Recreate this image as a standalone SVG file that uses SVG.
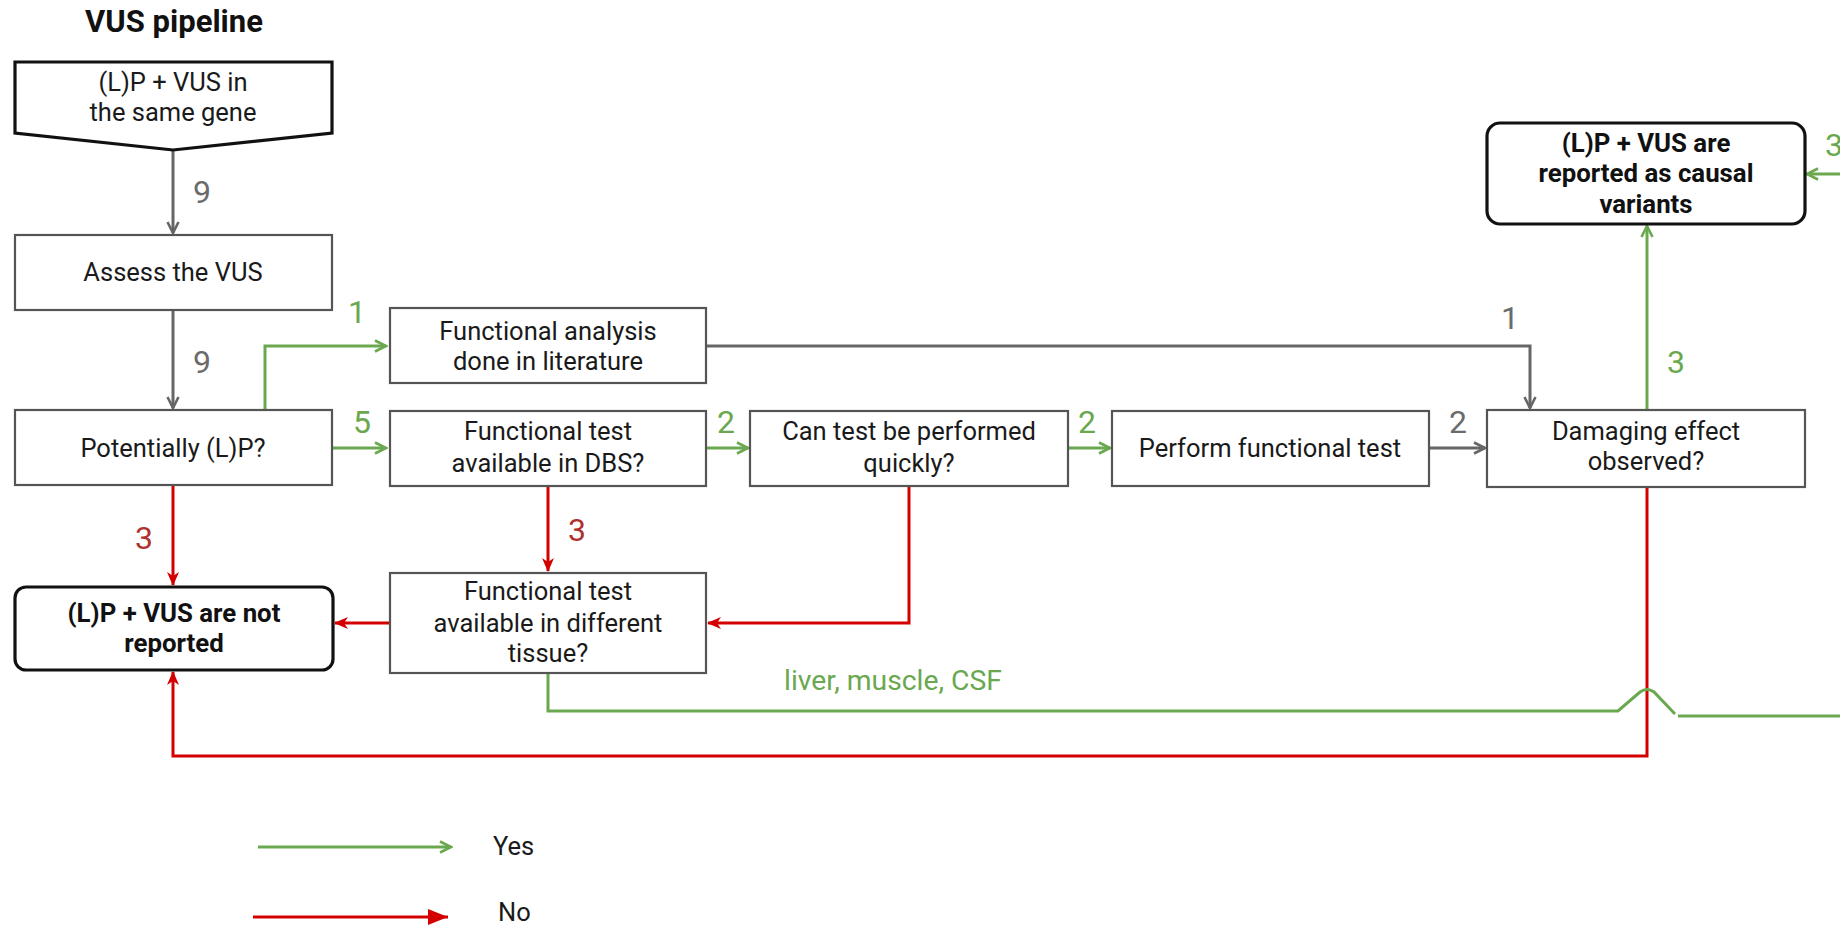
<svg xmlns="http://www.w3.org/2000/svg" width="1840" height="927" viewBox="0 0 1840 927">
  <style>
    text { font-family: Roboto, "Liberation Sans", sans-serif; }
    .box { fill: #ffffff; stroke: #555555; stroke-width: 2.2; }
    .term { fill: #ffffff; stroke: #111111; stroke-width: 3.2; }
    .t { font-size: 25.5px; fill: #1a1a1a; text-anchor: middle; }
    .tb { font-size: 25.8px; font-weight: bold; fill: #111111; text-anchor: middle; }
    .title { font-size: 31px; font-weight: bold; fill: #111111; text-anchor: middle; }
    .n { font-size: 32px; text-anchor: middle; }
    .ng { fill: #6aa84f; }
    .nr { fill: #b03030; }
    .nk { fill: #6b6b6b; }
    .c { fill: none; stroke-width: 3; stroke-linejoin: miter; }
    .cg { stroke: #6aa84f; }
    .cr { stroke: #d40000; }
    .ck { stroke: #666666; }
  </style>
  <defs>
    <marker id="mg" viewBox="0 0 14 14" refX="12.5" refY="7" markerWidth="14" markerHeight="14" orient="auto" markerUnits="userSpaceOnUse">
      <path d="M1.5,1.5 L12.5,7 L1.5,12.5" fill="none" stroke="#6aa84f" stroke-width="2.6"/>
    </marker>
    <marker id="mk" viewBox="0 0 14 14" refX="12.5" refY="7" markerWidth="14" markerHeight="14" orient="auto" markerUnits="userSpaceOnUse">
      <path d="M1.5,1.5 L12.5,7 L1.5,12.5" fill="none" stroke="#666666" stroke-width="2.6"/>
    </marker>
    <marker id="mr" viewBox="0 0 14 14" refX="13" refY="7" markerWidth="14" markerHeight="14" orient="auto" markerUnits="userSpaceOnUse">
      <path d="M0,1 L14,7 L0,13 L4,7 z" fill="#d40000"/>
    </marker>
    <marker id="mrl" viewBox="0 0 20 16" refX="20" refY="8" markerWidth="20" markerHeight="16" orient="auto" markerUnits="userSpaceOnUse">
      <path d="M0,0 L20,8 L0,16 z" fill="#d40000"/>
    </marker>
  </defs>

  <text class="title" x="174" y="32">VUS pipeline</text>

  <!-- connectors -->
  <g id="connectors">
    <path class="c ck" d="M173,150 L173,233" marker-end="url(#mk)"/>
    <path class="c ck" d="M173,310 L173,408" marker-end="url(#mk)"/>
    <path class="c cg" d="M265,410 L265,346 L386,346" marker-end="url(#mg)"/>
    <path class="c cg" d="M332,448 L386,448" marker-end="url(#mg)"/>
    <path class="c cr" d="M173,485 L173,585" marker-end="url(#mr)"/>
    <path class="c cg" d="M706,448 L748,448" marker-end="url(#mg)"/>
    <path class="c cr" d="M548,486 L548,571" marker-end="url(#mr)"/>
    <path class="c cg" d="M1068,448 L1110,448" marker-end="url(#mg)"/>
    <path class="c ck" d="M1429,448 L1485,448" marker-end="url(#mk)"/>
    <path class="c ck" d="M706,346 L1530,346 L1530,408" marker-end="url(#mk)"/>
    <path class="c cg" d="M1647,410 L1647,226" marker-end="url(#mg)"/>
    <path class="c cg" d="M1840,174 L1807,174" marker-end="url(#mg)"/>
    <path class="c cr" d="M909,486 L909,623 L708,623" marker-end="url(#mr)"/>
    <path class="c cr" d="M390,623 L335,623" marker-end="url(#mr)"/>
    <path class="c cr" d="M1647,487 L1647,756 L173,756 L173,672" marker-end="url(#mr)"/>
    <path class="c cg" d="M548,673 L548,711 L1618,711 L1640,692 Q1647,687 1654,692 L1675,714"/>
    <path class="c cg" d="M1678,716 L1840,716"/>
  </g>

  <!-- edge labels -->
  <g id="labels">
    <text class="n nk" x="202" y="203">9</text>
    <text class="n nk" x="202" y="373">9</text>
    <text class="n ng" x="357" y="323">1</text>
    <text class="n ng" x="362" y="433">5</text>
    <text class="n nr" x="144" y="549">3</text>
    <text class="n ng" x="726" y="433">2</text>
    <text class="n nr" x="577" y="541">3</text>
    <text class="n ng" x="1087" y="433">2</text>
    <text class="n nk" x="1458" y="433">2</text>
    <text class="n nk" x="1510" y="329">1</text>
    <text class="n ng" x="1676" y="373">3</text>
    <text class="n ng" x="1834" y="156" text-anchor="end">3</text>
    <text class="ng" x="784" y="690" font-size="28.3">liver, muscle, CSF</text>
  </g>

  <!-- nodes -->
  <g id="start">
    <polygon points="15,62 332,62 332,133 173,150 15,133" fill="#ffffff" stroke="#111111" stroke-width="3.2" stroke-linejoin="miter"/>
    <text class="t" x="173" y="91">(L)P + VUS in</text>
    <text class="t" x="173" y="121">the same gene</text>
  </g>
  <g id="assess">
    <rect class="box" x="15" y="235" width="317" height="75"/>
    <text class="t" x="173" y="281">Assess the VUS</text>
  </g>
  <g id="potentially">
    <rect class="box" x="15" y="410" width="317" height="75"/>
    <text class="t" x="173" y="457">Potentially (L)P?</text>
  </g>
  <g id="literature">
    <rect class="box" x="390" y="308" width="316" height="75"/>
    <text class="t" x="548" y="340">Functional analysis</text>
    <text class="t" x="548" y="370">done in literature</text>
  </g>
  <g id="dbs">
    <rect class="box" x="390" y="411" width="316" height="75"/>
    <text class="t" x="548" y="440">Functional test</text>
    <text class="t" x="548" y="472">available in DBS?</text>
  </g>
  <g id="quick">
    <rect class="box" x="750" y="411" width="318" height="75"/>
    <text class="t" x="909" y="440">Can test be performed</text>
    <text class="t" x="909" y="472">quickly?</text>
  </g>
  <g id="perform">
    <rect class="box" x="1112" y="411" width="317" height="75"/>
    <text class="t" x="1270" y="457">Perform functional test</text>
  </g>
  <g id="damaging">
    <rect class="box" x="1487" y="410" width="318" height="77"/>
    <text class="t" x="1646" y="440">Damaging effect</text>
    <text class="t" x="1646" y="470">observed?</text>
  </g>
  <g id="tissue">
    <rect class="box" x="390" y="573" width="316" height="100"/>
    <text class="t" x="548" y="600">Functional test</text>
    <text class="t" x="548" y="632">available in different</text>
    <text class="t" x="548" y="662">tissue?</text>
  </g>
  <g id="not-reported">
    <rect class="term" x="15" y="587" width="318" height="83" rx="11"/>
    <text class="tb" x="174" y="622">(L)P + VUS are not</text>
    <text class="tb" x="174" y="652">reported</text>
  </g>
  <g id="causal">
    <rect class="term" x="1487" y="123" width="318" height="101" rx="13"/>
    <text class="tb" x="1646" y="152">(L)P + VUS are</text>
    <text class="tb" x="1646" y="182">reported as causal</text>
    <text class="tb" x="1646" y="213">variants</text>
  </g>

  <!-- legend -->
  <g id="legend">
    <path class="c cg" d="M258,847 L451,847" marker-end="url(#mg)"/>
    <text x="493" y="855" font-size="25.5" fill="#1a1a1a">Yes</text>
    <path class="c cr" d="M253,917 L448,917" marker-end="url(#mrl)"/>
    <text x="498" y="921" font-size="25.5" fill="#1a1a1a">No</text>
  </g>
</svg>
